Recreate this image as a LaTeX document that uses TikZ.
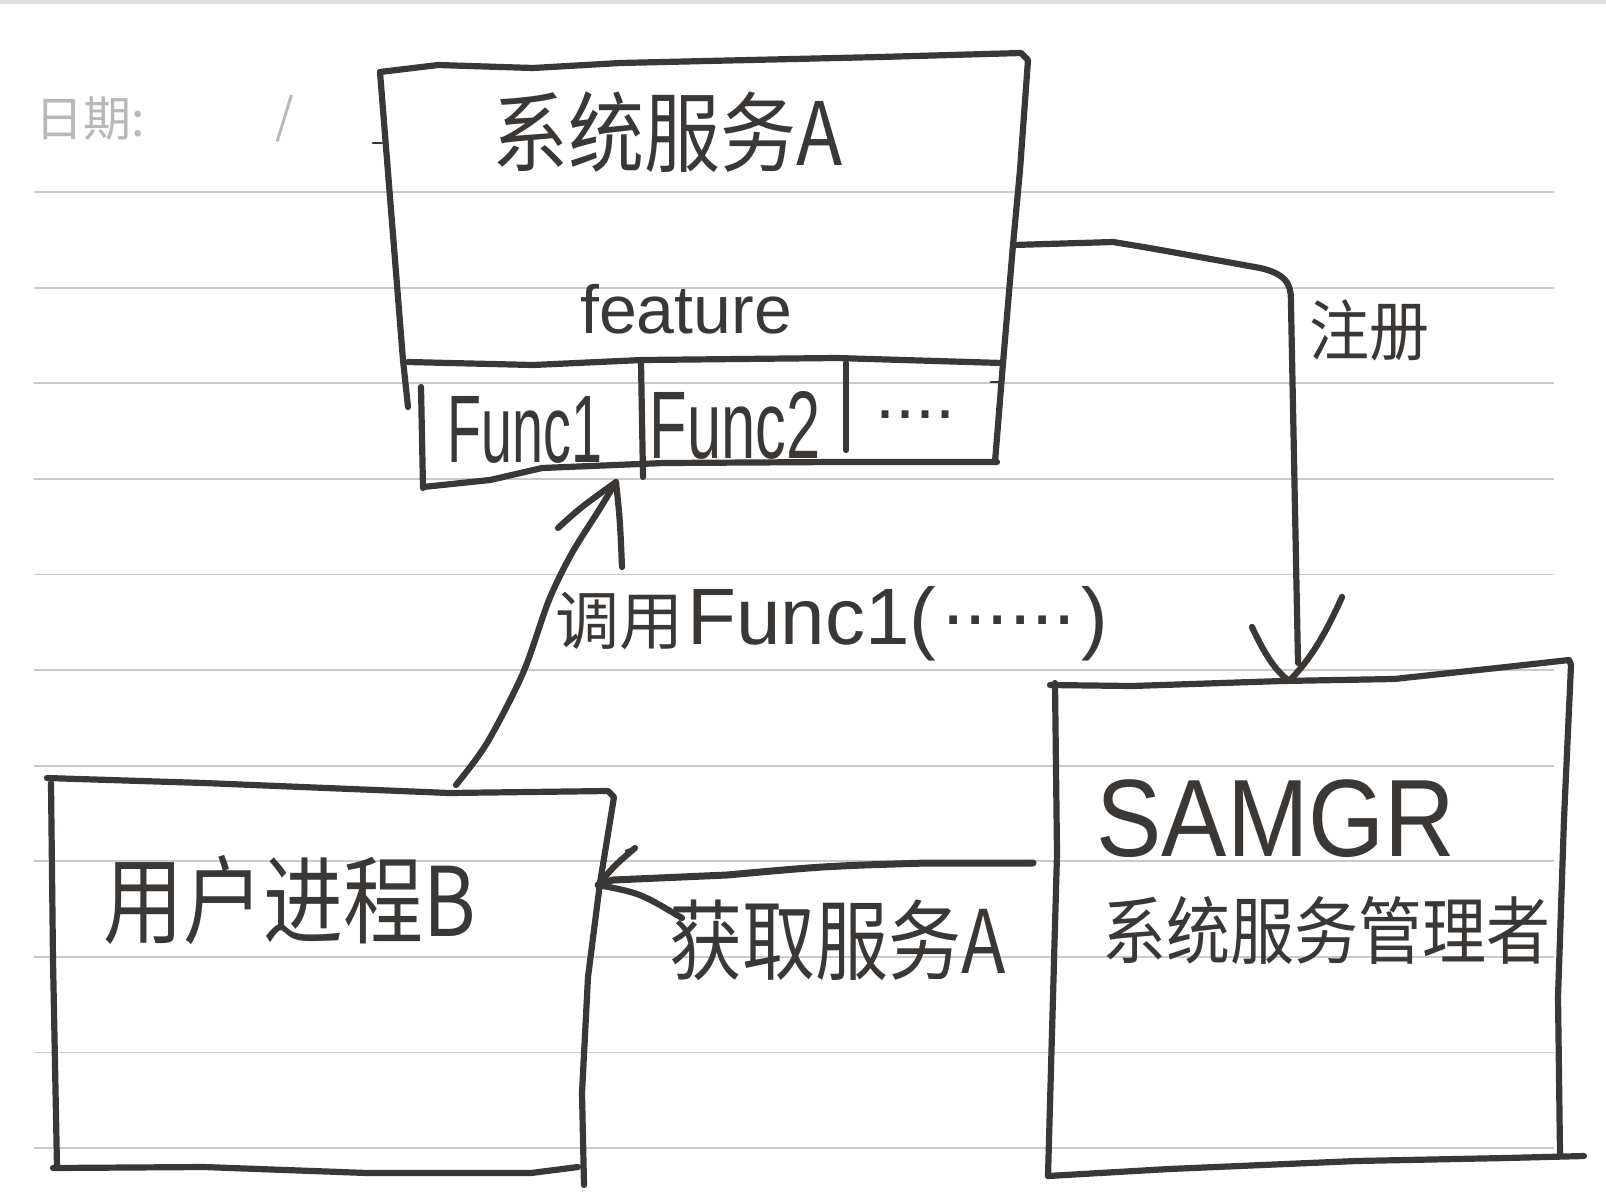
\documentclass[tikz,border=0pt]{standalone}
\usepackage{graphicx}
\usepackage{fontspec}
\setmainfont{Liberation Sans}
\newfontfamily\cjk{Noto Sans CJK SC}
\definecolor{inkc}{HTML}{3B3735}
\definecolor{rulec}{HTML}{CACACA}
\definecolor{datec}{HTML}{B8B8B8}
\definecolor{topc}{HTML}{DDDDDD}
\begin{document}
\begin{tikzpicture}[x=1pt,y=-1pt,
  ink/.style={draw=inkc, line width=6.2pt, line cap=round, line join=round},
  thinink/.style={draw=inkc, line width=2.8pt, line cap=round},
  rule/.style={draw=rulec, line width=1.8pt},
  lbl/.style={text=inkc, inner sep=0pt},
  datelbl/.style={text=datec, inner sep=0pt}]
\fill[white] (0,0) rectangle (1606,1203);
\useasboundingbox (0,0) rectangle (1606,1203);
\fill[topc] (0,0) rectangle (1606,4);
% ruled paper
\foreach \i in {0,...,10}{
  \draw[rule] (34,{192+95.6*\i}) -- (1554,{192+95.6*\i});
}
% date header
\node[datelbl] (date) at (90,119) {\cjk\fontsize{48}{52}\selectfont 日期:};
\node[datelbl] (slash) at (285,119) {\cjk\fontsize{48}{52}\selectfont /};
\draw[thinink] (373,143) -- (382,143);

% ---- box: system service A ----
\draw[ink] (380,72) -- (438,65) -- (533,68) -- (620,63) -- (750,60) -- (880,57) -- (1021,53) -- (1028,60)
  -- (1020,170) -- (1013,245) -- (1003,363) -- (995,462);
\draw[ink] (380,72) -- (403,360) -- (408,407);
\draw[ink] (408,362) -- (533,365) -- (642,360) -- (837,358) -- (1002,363);
\draw[ink] (421,387) -- (423,488);
\draw[ink] (423,487) -- (490,480) -- (542,468) -- (664,463) -- (837,462) -- (997,462);
\draw[ink] (641,362) -- (643,477);
\draw[ink] (846,363) -- (846,450);
\draw[thinink] (991,382) -- (1002,382);

\node[lbl] (sysA) at (668,132) {\scalebox{1}[1.15]{\cjk\fontsize{76}{80}\selectfont 系统服务A}};
\node[lbl, anchor=base] (feature) at (686,333) {\fontsize{68}{72}\selectfont feature};
\node[lbl, anchor=base] (func1) at (525,462) {\scalebox{0.58}[1]{\fontsize{96}{100}\selectfont Func1}};
\node[lbl, anchor=base] (func2) at (735,458) {\scalebox{0.64}[1]{\fontsize{96}{100}\selectfont Func2}};
\node[lbl, anchor=base] (funcmore) at (915,418) {\fontsize{72}{80}\selectfont ....};

% ---- box: user process B ----
\draw[ink] (47,778) -- (204,783) -- (449,793) -- (608,791) -- (614,797)
  -- (600,883) -- (588,977) -- (582,1093) -- (584,1185);
\draw[ink] (51,783) -- (53,960) -- (57,1167);
\draw[ink] (53,1168) -- (204,1167) -- (367,1173) -- (531,1173) -- (578,1167);
\node[lbl] (userB) at (290,900) {\scalebox{1}[1.2]{\cjk\fontsize{80}{84}\selectfont 用户进程B}};

% ---- box: SAMGR ----
\draw[ink] (1050,685) -- (1132,686) -- (1282,681) -- (1394,679) -- (1506,667) -- (1569,660) -- (1571,665)
  -- (1564,819) -- (1558,997) -- (1560,1154);
\draw[ink] (1055,683) -- (1057,854) -- (1050,1104) -- (1048,1176);
\draw[ink] (1048,1176) -- (1169,1169) -- (1356,1161) -- (1506,1158) -- (1584,1156);
\node[lbl, anchor=base] (samgr) at (1276,856) {\scalebox{0.89}[1]{\fontsize{110}{116}\selectfont SAMGR}};
\node[lbl] (samgrcn) at (1326,930) {\scalebox{1}[1.15]{\cjk\fontsize{64}{70}\selectfont 系统服务管理者}};

% ---- connector: register ----
\coordinate (regS) at (1013,245);
\coordinate (regT) at (1289,681);
\draw[ink] (regS) -- (1113,242) .. controls (1150,248) .. (1260,268)
  .. controls (1292,275) and (1291,290) .. (1291,305) -- (1298,663);
\draw[ink] (1252,627) .. controls (1265,655) and (1275,670) .. (regT)
  .. controls (1310,660) and (1325,635) .. (1342,597);
\node[lbl] (reglbl) at (1369,330) {\scalebox{1}[1.1]{\cjk\fontsize{60}{64}\selectfont 注册}};

% ---- connector: get service A ----
\coordinate (getS) at (1033,863);
\coordinate (getT) at (598,885);
\draw[ink, line width=7pt] (getS) -- (927,863) .. controls (827,866) .. (727,875) -- (613,880) -- (getT);
\draw[ink] (635,848) .. controls (615,865) .. (getT) .. controls (640,893) .. (682,918);
\draw[thinink] (635,848) -- (626,851);
\node[lbl] (getlbl) at (838,940) {\scalebox{1}[1.2]{\cjk\fontsize{73}{78}\selectfont 获取服务A}};

% ---- connector: call Func1 ----
\coordinate (callS) at (456,785);
\coordinate (callT) at (616,482);
\draw[ink] plot[smooth] coordinates {(callS) (487,743) (523,673) (549,600) (572,553) (599,510) (callT)};
\draw[ink] (558,528) .. controls (580,508) .. (callT) .. controls (620,520) .. (622,567);
\node[lbl] (calllbl) at (832,624) {{\cjk\fontsize{64}{70}\selectfont 调用}\hspace{4pt}{\fontsize{80}{86}\selectfont Func1(\hspace{6pt}\raisebox{20pt}{......}\hspace{6pt})}};
\end{tikzpicture}
\end{document}
